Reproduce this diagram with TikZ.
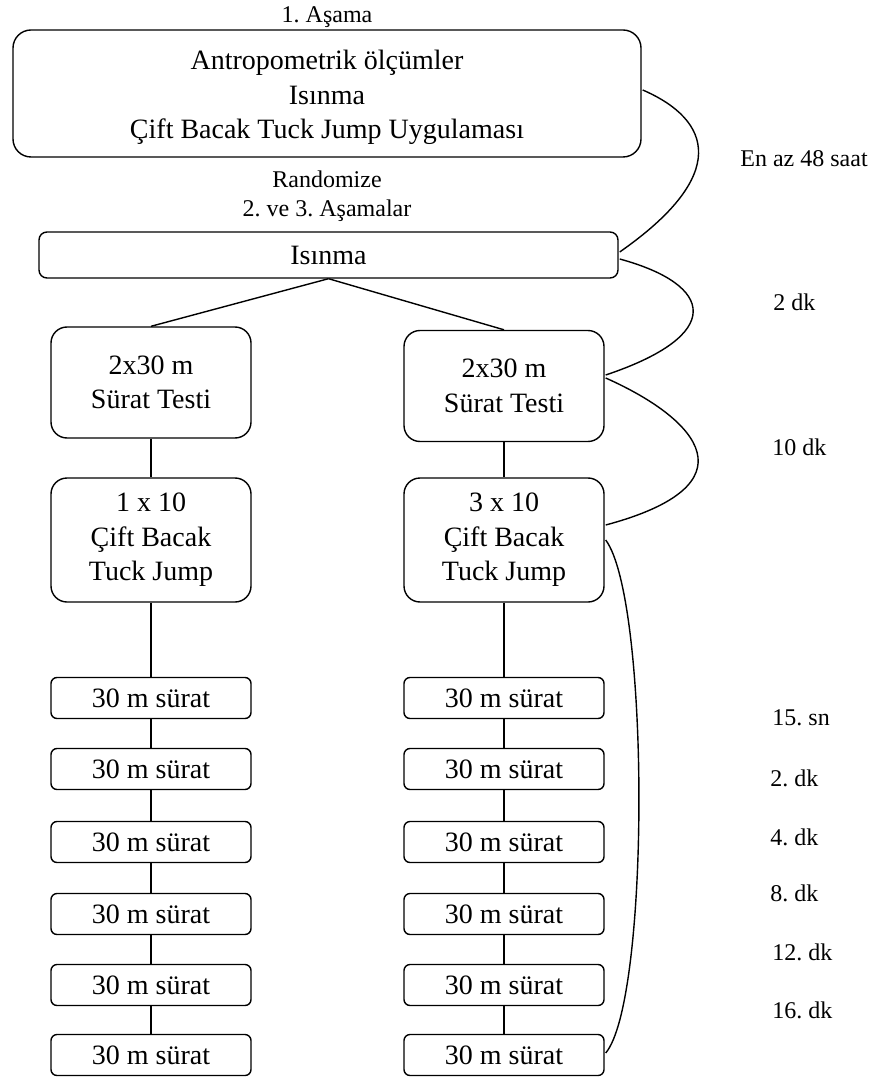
\documentclass[tikz,border=0pt]{standalone}
\usepackage{fontspec}
\setmainfont{Liberation Serif}
\frenchspacing
\usetikzlibrary{calc}
\tikzset{
  boxbase/.style={draw, line width=0.7pt, inner sep=0pt, align=center, font=\fontsize{14}{17.25}\selectfont},
  bigbox/.style={boxbase, rounded corners=9pt, minimum width=314pt, minimum height=63.5pt},
  warmbox/.style={boxbase, rounded corners=4pt, minimum width=289.5pt, minimum height=23pt},
  testbox/.style={boxbase, rounded corners=8pt, minimum width=100pt, minimum height=55.5pt},
  jumpbox/.style={boxbase, rounded corners=8pt, minimum width=100pt, minimum height=62pt},
  runbox/.style={boxbase, rounded corners=3pt, minimum width=100pt, minimum height=20.5pt},
  lbl/.style={inner sep=0pt, align=center, font=\fontsize{12}{14.5}\selectfont},
  conn/.style={line width=0.7pt},
}
\begin{document}
\begin{tikzpicture}[x=0.5pt,y=-0.5pt]
\useasboundingbox (0,0) rectangle (876,1079);

\node[lbl] (t1) at (327,17) {1. Aşama};
\node[bigbox] (big) at (327,93.5) {\rule{0pt}{13.8pt}Antropometrik ölçümler\\Isınma\\Çift Bacak Tuck Jump Uygulaması};
\node[lbl] (rand) at (327,196.5) {Randomize\\2. ve 3. Aşamalar};
\node[warmbox] (isinma) at (328.5,255) {Isınma};

\node[testbox] (s1) at (151,382.5) {2x30 m\\Sürat Testi};
\node[testbox] (s2) at (504,386) {2x30 m\\Sürat Testi};
\node[jumpbox] (j1) at (151,540) {1 x 10\\Çift Bacak\\Tuck Jump};
\node[jumpbox] (j2) at (504,540) {3 x 10\\Çift Bacak\\Tuck Jump};

\foreach \i/\y in {1/698,2/769,3/842,4/914,5/985,6/1055}{
  \node[runbox] (l\i) at (151,\y) {30 m sürat};
  \node[runbox] (r\i) at (504,\y) {30 m sürat};
}

\draw[conn] (isinma.south) -- (s1.north);
\draw[conn] (isinma.south) -- (s2.north);
\draw[conn] (s1) -- (j1);
\draw[conn] (s2) -- (j2);
\draw[conn] (j1) -- (l1);
\draw[conn] (j2) -- (r1);
\foreach \a/\b in {1/2,2/3,3/4,4/5,5/6}{
  \draw[conn] (l\a) -- (l\b);
  \draw[conn] (r\a) -- (r\b);
}

% right-hand curves
\draw[conn] ($(big.east)+(1,-3.5)$) .. controls (712,120) and (730,175) .. ($(isinma.east)+(1,-3)$);
\draw[conn] ($(isinma.east)+(1,4)$) .. controls (715,285) and (725,335) .. ($(s2.east)+(1,-11)$);
\draw[conn] ($(s2.east)+(1,-8)$) .. controls (700,420) and (755,485) .. ($(j2.east)+(1,-15)$);
\draw[conn] ($(j2.east)+(1,0)$) .. controls (650,600) and (650,1000) .. ($(r6.east)+(1,-2)$);

% time labels
\node[lbl, anchor=west] (h48) at (740,159) {En az 48 saat};
\node[lbl, anchor=west] (d2) at (773,302) {2 dk};
\node[lbl, anchor=west] (d10) at (772,447) {10 dk};
\node[lbl, anchor=west] (q15) at (772,718) {15. sn};
\node[lbl, anchor=west] (q2) at (770,778) {2. dk};
\node[lbl, anchor=west] (q4) at (770,837) {4. dk};
\node[lbl, anchor=west] (q8) at (770,893) {8. dk};
\node[lbl, anchor=west] (q12) at (772,952) {12. dk};
\node[lbl, anchor=west] (q16) at (772,1010) {16. dk};
\end{tikzpicture}
\end{document}
